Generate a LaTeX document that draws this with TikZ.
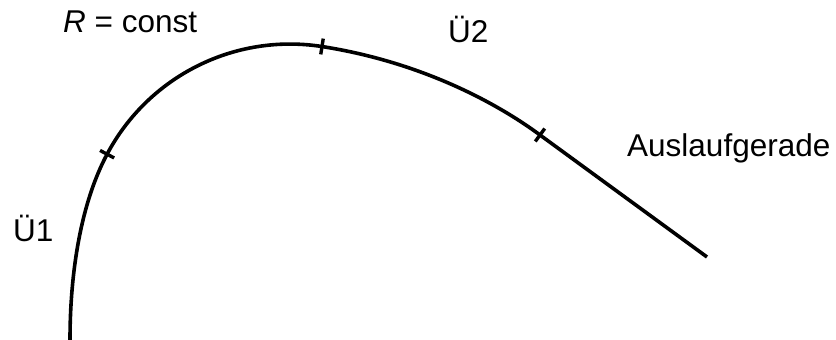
\documentclass[tikz,border=0pt]{standalone}
\usepackage{fontspec}
\setmainfont{Liberation Sans}
\begin{document}
\begin{tikzpicture}[x=1pt,y=1pt,
  curve/.style={line width=3.6pt},
  tickmark/.style={line width=3.4pt},
  lbl/.style={anchor=base west,inner sep=0pt,font=\fontsize{31.5}{38}\selectfont}]
\useasboundingbox (0,0) rectangle (836,340);
\coordinate (S) at (70,-2);
\coordinate (T1) at (107.1,185.8);
\coordinate (T2) at (322,293.5);
\coordinate (T3) at (540,205);
\coordinate (E) at (707,83);
\draw[curve] (S) .. controls (70,20.2) and (70,116.3) .. (T1)
  arc[start angle=152.1, end angle=81.1, radius=207pt]
  .. controls (445.6,274.1) and (523.9,216.8) .. (T3) -- (E);
\draw[tickmark] (T1) ++(152:8pt) -- ++(-28:16pt);
\draw[tickmark] (T2) ++(81.1:8pt) -- ++(-98.9:16pt);
\draw[tickmark] (T3) ++(53.8:8pt) -- ++(-126.2:16pt);
\node[lbl] (rconst) at (63,307) {\textit{R} = const};
\node[lbl] (u1) at (13,98) {Ü1};
\node[lbl] (u2) at (448,297) {Ü2};
\node[lbl] (aus) at (627,183) {Auslaufgerade};
\end{tikzpicture}
\end{document}
